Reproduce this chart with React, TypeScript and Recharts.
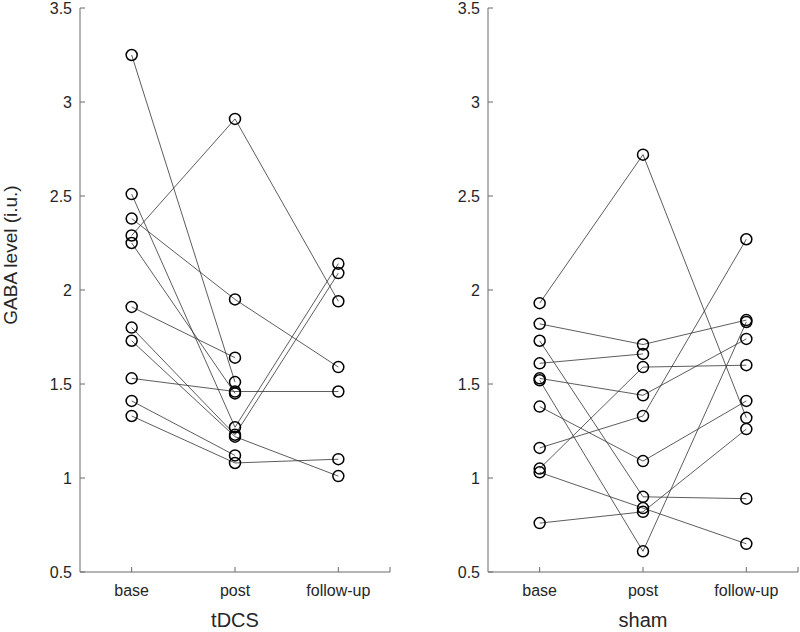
import React from "react";
import { LineChart, Line, XAxis, YAxis } from "recharts";

// condition labels on the x axis (positions 1, 2, 3)
const conditions = ["base", "post", "follow-up"];
const xTicks = [1, 2, 3, 3.5];
const yTicks = [0.5, 1, 1.5, 2, 2.5, 3, 3.5];

// tDCS group, one entry per subject (null = no follow-up measurement)
const tdcsBase = [3.25, 2.51, 2.38, 2.29, 2.25, 1.91, 1.8, 1.73, 1.53, 1.41, 1.33];
const tdcsPost = [1.51, 1.27, 1.95, 2.91, 1.45, 1.64, 1.23, 1.22, 1.46, 1.12, 1.08];
const tdcsFollowUp = [null, 2.14, 1.59, 1.94, null, null, 2.09, 1.01, 1.46, null, 1.1];

// sham group
const shamBase = [1.93, 1.82, 1.73, 1.61, 1.53, 1.52, 1.38, 1.16, 1.05, 1.03, 0.76];
const shamPost = [2.72, 1.71, 0.9, 1.66, 1.44, 0.61, 1.09, 1.33, 1.59, 0.84, 0.82];
const shamFollowUp = [1.32, 1.84, 0.89, null, 1.74, 1.83, 1.41, 2.27, 1.6, 0.65, 1.26];

const FONT = '"Liberation Sans", Arial, Helvetica, sans-serif';
const AXIS = "#6a6a6a";
const TEXT = "#262626";

const toSubjects = (base: number[], post: number[], fu: (number | null)[]) =>
  base.map((b, i) => [
    { x: 1, y: b },
    { x: 2, y: post[i] },
    { x: 3, y: fu[i] },
  ]);

const Ring = (props: any) => {
  const { cx, cy, index } = props;
  if (cx == null || cy == null || props.value == null) return <g key={index} />;
  return (
    <circle
      key={index}
      cx={cx}
      cy={cy}
      r={5.5}
      fill="none"
      stroke="#000"
      strokeWidth={1.5}
    />
  );
};

const condLabel = (v: number) => (v >= 1 && v <= 3 ? conditions[v - 1] : "");

interface PanelProps {
  title: string;
  subjects: { x: number; y: number | null }[][];
  showYLabel: boolean;
  width: number;
  marginRight: number;
}

const Panel = ({ title, subjects, showYLabel, width, marginRight }: PanelProps) => (
  <LineChart
    width={width}
    height={632}
    margin={{ top: 8, right: marginRight, bottom: 0, left: 0 }}
    style={{ fontFamily: FONT }}
  >
    <XAxis
      type="number"
      dataKey="x"
      domain={[0.5, 3.5]}
      ticks={xTicks}
      interval={0}
      tickFormatter={condLabel}
      height={60}
      stroke={AXIS}
      tickSize={-5}
      tickMargin={18}
      tick={{ fill: TEXT, fontSize: 16 }}
      label={{
        content: (p: any) => (
          <text
            x={p.viewBox.x + p.viewBox.width / 2}
            y={627}
            textAnchor="middle"
            fontSize={20}
            fill={TEXT}
          >
            {title}
          </text>
        ),
      }}
    />
    <YAxis
      type="number"
      dataKey="y"
      domain={[0.5, 3.5]}
      ticks={yTicks}
      interval={0}
      width={80}
      stroke={AXIS}
      tickSize={-5}
      tickMargin={13}
      tick={{ fill: TEXT, fontSize: 16 }}
      label={
        showYLabel
          ? {
              content: () => (
                <text
                  x={17}
                  y={255}
                  transform="rotate(-90 17 255)"
                  textAnchor="middle"
                  fontSize={19}
                  fill={TEXT}
                >
                  GABA level (i.u.)
                </text>
              ),
            }
          : undefined
      }
    />
    {subjects.map((s, i) => (
      <Line
        key={i}
        data={s}
        dataKey="y"
        type="linear"
        stroke="#333"
        strokeWidth={0.8}
        dot={Ring}
        activeDot={false}
        isAnimationActive={false}
      />
    ))}
  </LineChart>
);

export default function App() {
  return (
    <div
      style={{
        position: "absolute",
        left: 0,
        top: 0,
        width: 800,
        height: 632,
        background: "#fff",
        overflow: "hidden",
      }}
    >
      <div style={{ position: "absolute", left: 0, top: 0 }}>
        <Panel
          title="tDCS"
          subjects={toSubjects(tdcsBase, tdcsPost, tdcsFollowUp)}
          showYLabel
          width={400}
          marginRight={10}
        />
      </div>
      <div style={{ position: "absolute", left: 408, top: 0 }}>
        <Panel
          title="sham"
          subjects={toSubjects(shamBase, shamPost, shamFollowUp)}
          showYLabel={false}
          width={392}
          marginRight={2}
        />
      </div>
    </div>
  );
}
